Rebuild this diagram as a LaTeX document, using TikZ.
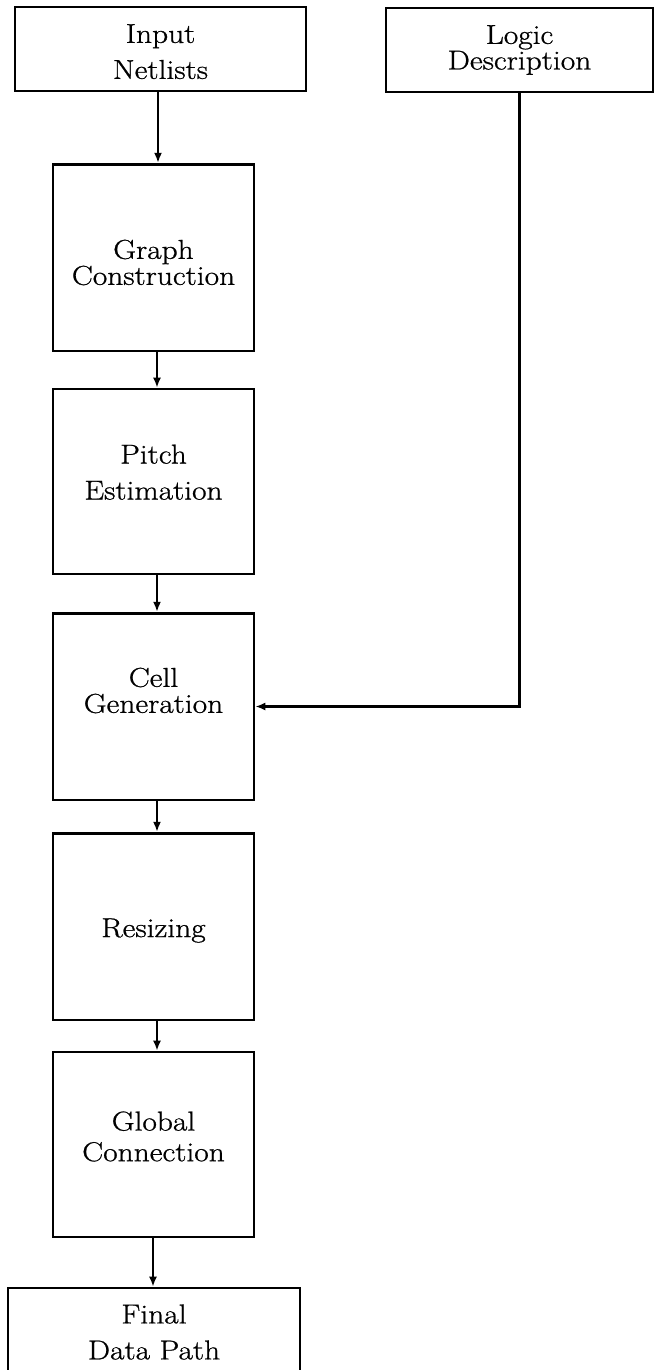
\documentclass[tikz,border=0pt]{standalone}
\usepackage{fontspec}
\setmainfont{Latin Modern Roman}[FakeStretch=1.15,FakeBold=0.8]
\usetikzlibrary{arrows.meta}
\begin{document}
\begin{tikzpicture}[x=0.75pt,y=-0.75pt,
  box/.style={draw, line width=2pt, inner sep=0pt, align=center},
  mainbox/.style={box, minimum width=150.75pt, minimum height=140pt},
  lbl/.style={align=center, inner sep=0pt},
  arr/.style={line width=1.6pt, -{Latex[length=7.5pt,width=6pt]}},
  fA/.style={font=\fontsize{20.5}{27}\selectfont},
  fB/.style={font=\fontsize{20.5}{16.5}\selectfont},
  fC/.style={font=\fontsize{20.5}{19.5}\selectfont},
  fD/.style={font=\fontsize{20.5}{23}\selectfont}]
\useasboundingbox (0,0) rectangle (655,1370);
\clip (0,0) rectangle (655,1370);
\node[box, minimum width=218.25pt, minimum height=63pt,
  label={[lbl,fA,yshift=-2pt]center:{Input\\Netlists}}] (in) at (160.5,49) {};
\node[box, minimum width=200.25pt, minimum height=63pt,
  label={[lbl,fB,yshift=0pt]center:{Logic\\Description}}] (lg) at (519.5,50) {};
\node[mainbox,
  label={[lbl,fC,yshift=-3.75pt]center:{Graph\\Construction}}] (gr) at (153.5,257.5) {};
\node[mainbox, minimum height=138.75pt,
  label={[lbl,fA,yshift=7pt]center:{Pitch\\Estimation}}] (pi) at (153.5,481.5) {};
\node[mainbox,
  label={[lbl,fC,yshift=12pt]center:{Cell\\Generation}}] (ce) at (153.5,706.5) {};
\node[mainbox,
  label={[lbl,fA,yshift=-3pt]center:{Resizing}}] (re) at (153.5,926.5) {};
\node[mainbox, minimum height=138.75pt,
  label={[lbl,fD,yshift=6pt]center:{Global\\Connection}}] (gl) at (153.5,1144.5) {};
\node[box, minimum width=219pt, minimum height=66pt,
  label={[lbl,fA,yshift=0pt]center:{Final\\Data Path}}] (fi) at (154,1332) {};
\draw[arr] (in.south -| 158,0) -- (gr.north -| 158,0);
\draw[arr] (gr.south -| 157,0) -- (pi.north -| 157,0);
\draw[arr] (pi.south -| 157,0) -- (ce.north -| 157,0);
\draw[arr] (ce.south -| 157,0) -- (re.north -| 157,0);
\draw[arr] (re.south -| 157,0) -- (gl.north -| 157,0);
\draw[arr] (gl.south -| 153,0) -- (fi.north -| 153,0);
\draw[arr] (lg.south) |- (ce.east);
\end{tikzpicture}
\end{document}
